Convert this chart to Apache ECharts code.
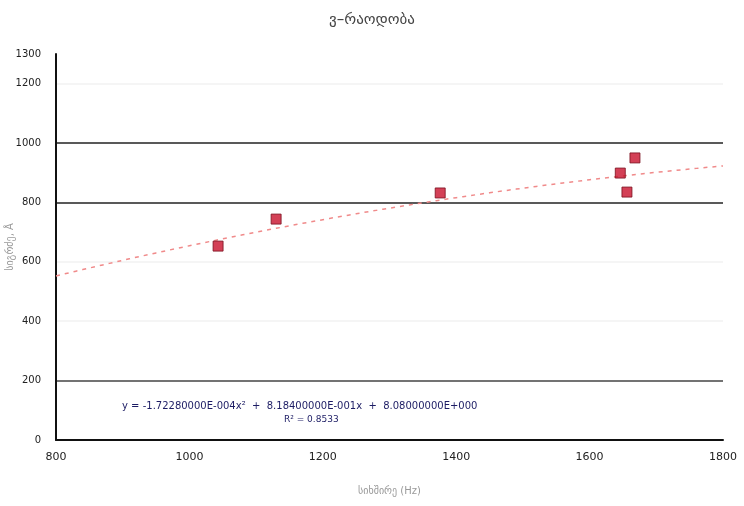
<!DOCTYPE html>
<html>
<head>
<meta charset="utf-8">
<script src="https://cdn.jsdelivr.net/npm/echarts@6/dist/echarts.min.js"></script>
<style>
  html, body { margin: 0; padding: 0; background: #fff; }
  #chart { width: 744px; height: 506px; }
</style>
</head>
<body>
<div id="chart"></div>
<script>
// Measured samples
const sampleX = [1043, 1130, 1376, 1646, 1656, 1668];
const sampleY = [653, 744, 832, 899, 835, 950];

// Quadratic trendline coefficients: y = a*x^2 + b*x + c
const trendCoef = [-1.7228e-4, 0.8184, 8.08];
const trendRange = [800, 1800];

// Axis ticks
const xTicks = [800, 1000, 1200, 1400, 1600, 1800];
const yMax = 1300;

const titleText = 'ვ–რაოდობა';
const xName = 'სიხშირე (Hz)';
const yName = 'სიგრძე, Å';

const f = x => trendCoef[0] * x * x + trendCoef[1] * x + trendCoef[2];
const trendPts = [];
for (let x = trendRange[0]; x <= trendRange[1]; x += 10) trendPts.push([x, f(x)]);

// Coefficient of determination for the fitted curve
const meanY = sampleY.reduce((s, v) => s + v, 0) / sampleY.length;
let ssRes = 0, ssTot = 0;
sampleX.forEach((x, i) => {
  ssRes += Math.pow(sampleY[i] - f(x), 2);
  ssTot += Math.pow(sampleY[i] - meanY, 2);
});
const r2 = 1 - ssRes / ssTot;

function sci(v) {
  const e = Math.floor(Math.log10(Math.abs(v)));
  const m = v / Math.pow(10, e);
  const es = (e < 0 ? '-' : '+') + String(Math.abs(e)).padStart(3, '0');
  return m.toFixed(8) + 'E' + es;
}
const eqText = 'y = ' + sci(trendCoef[0]) + 'x²  +  ' + sci(trendCoef[1]) + 'x  +  ' + sci(trendCoef[2]);
const r2Text = 'R² = ' + r2.toFixed(4);

const chart = echarts.init(document.getElementById('chart'), null, { renderer: 'canvas' });
chart.setOption({
  backgroundColor: '#ffffff',
  animation: false,
  title: {
    text: titleText,
    left: 'center',
    top: 8,
    textStyle: { fontFamily: 'DejaVu Sans', fontSize: 15, fontWeight: 'normal', color: '#444' }
  },
  grid: { left: 56, right: 21, top: 54, bottom: 66, containLabel: false, outerBoundsMode: 'none' },
  xAxis: {
    type: 'value',
    min: xTicks[0],
    max: xTicks[xTicks.length - 1],
    interval: 200,
    name: xName,
    nameLocation: 'middle',
    nameGap: 46,
    nameMoveOverlap: false,
    nameTextStyle: { fontFamily: 'DejaVu Sans', fontSize: 10, color: '#999' },
    axisLine: { show: true, lineStyle: { color: '#111', width: 2 } },
    axisTick: { show: false },
    axisLabel: { fontFamily: 'DejaVu Sans', fontSize: 11, color: '#222', margin: 12, formatter: v => String(v) },
    splitLine: { show: false }
  },
  yAxis: {
    type: 'value',
    min: 0,
    max: yMax,
    interval: 200,
    name: yName,
    nameLocation: 'middle',
    nameGap: 41,
    nameMoveOverlap: false,
    nameTextStyle: { fontFamily: 'DejaVu Sans', fontSize: 10, color: '#999' },
    axisLine: { show: true, lineStyle: { color: '#111', width: 2 } },
    axisTick: { show: false },
    axisLabel: { fontFamily: 'DejaVu Sans', fontSize: 10, color: '#222', margin: 15, formatter: v => String(v) },
    splitLine: {
      show: true,
      lineStyle: {
        // one colour per tick: 0,200,400,600,800,1000,1200,1300
        color: ['#111', '#444', '#f2f2f2', '#f2f2f2', '#222', '#222', '#f2f2f2', '#ffffff'],
        width: 1.6
      }
    }
  },
  series: [
    {
      type: 'line',
      data: trendPts,
      showSymbol: false,
      smooth: false,
      lineStyle: { color: '#f08a8a', width: 1.5, type: [4, 5] },
      z: 2
    },
    {
      type: 'scatter',
      data: sampleX.map((x, i) => [x, sampleY[i]]),
      symbol: 'rect',
      symbolSize: 10,
      itemStyle: { color: '#c8102c', borderColor: '#7a0f1e', borderWidth: 1 },
      z: 3
    }
  ],
  graphic: [
    {
      type: 'text',
      left: 122,
      top: 401,
      style: { text: eqText, font: '10px "DejaVu Sans"', fill: '#1c1c64' }
    },
    {
      type: 'text',
      left: 284,
      top: 415,
      style: { text: r2Text, font: '9px "DejaVu Sans"', fill: '#1c1c64' }
    }
  ]
});
</script>
</body>
</html>
